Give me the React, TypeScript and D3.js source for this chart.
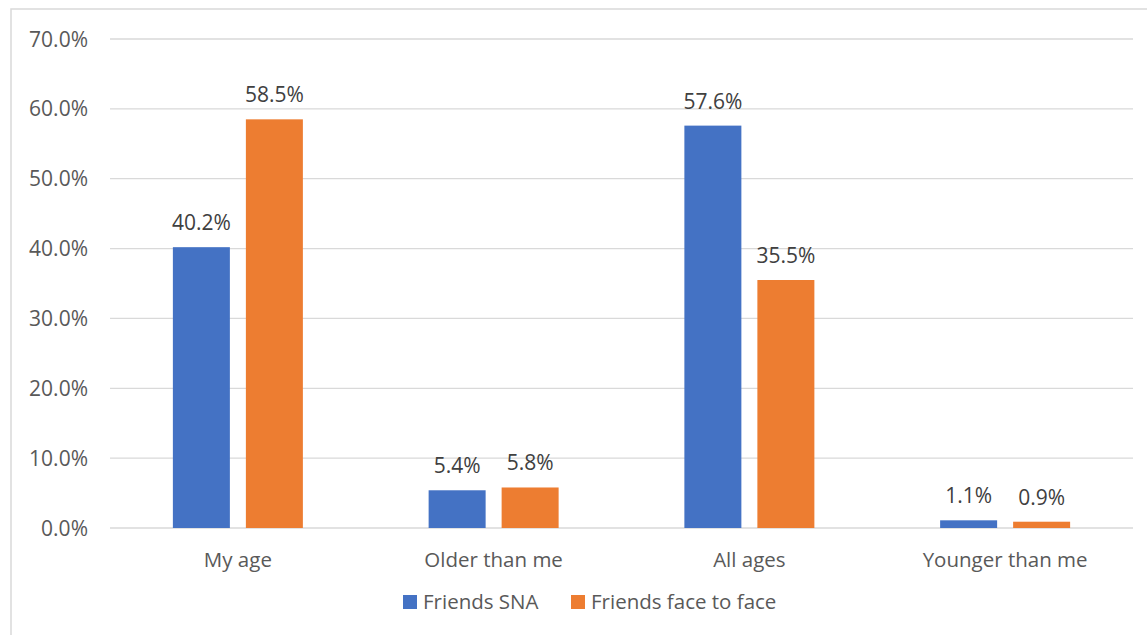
import React from "react";
import * as d3 from "d3";

const categories = ["My age", "Older than me", "All ages", "Younger than me"];
const seriesNames = ["Friends SNA", "Friends face to face"];
const friendsSNA = [40.2, 5.4, 57.6, 1.1];
const friendsFace = [58.5, 5.8, 35.5, 0.9];
const yTicks = [0, 10, 20, 30, 40, 50, 60, 70];
const colors = ["#4472C4", "#ED7D31"];

const W = 1147;
const H = 635;
const font = "'Open Sans', 'Segoe UI', sans-serif";
const textColor = "#595959";
const numSize = 21;
const txtSize = 20.5;

export default function App() {
  const left = 110, right = 1133, top = 39, bottom = 528;
  const x0 = d3.scaleBand<string>().domain(categories).range([left, right]);
  const y = d3.scaleLinear().domain([0, 70]).range([bottom, top]);
  const barW = 57;
  const gap = 16;
  const series = [friendsSNA, friendsFace];

  return (
    <svg width={W} height={H} style={{ position: "absolute", left: 0, top: 0, background: "#fff" }}>
      <rect x={11} y={9} width={W} height={H} fill="#fff" stroke="#d9d9d9" strokeWidth={1.5} />
      {yTicks.map((t) => (
        <g key={t}>
          <line x1={left} x2={right} y1={y(t)} y2={y(t)} stroke="#d9d9d9" strokeWidth={1.3} />
          <text x={88} y={y(t)} dy="0.36em" textAnchor="end" fontFamily={font} fontSize={numSize} fill={textColor}>
            {t.toFixed(1) + "%"}
          </text>
        </g>
      ))}
      {categories.map((c, i) => {
        const cx = (x0(c) as number) + x0.bandwidth() / 2;
        return (
          <g key={c}>
            {series.map((s, j) => {
              const bx = j === 0 ? cx - gap / 2 - barW : cx + gap / 2;
              return (
                <g key={j}>
                  <rect x={bx} y={y(s[i])} width={barW} height={y(0) - y(s[i])} fill={colors[j]} />
                  <text x={bx + barW / 2} y={y(s[i]) - 17} textAnchor="middle" fontFamily={font} fontSize={numSize} fill={"#404040"}>
                    {s[i].toFixed(1) + "%"}
                  </text>
                </g>
              );
            })}
            <text x={cx} y={567} textAnchor="middle" fontFamily={font} fontSize={txtSize} fill={textColor}>
              {c}
            </text>
          </g>
        );
      })}
      {seriesNames.map((n, j) => {
        const lx = j === 0 ? 403 : 571;
        return (
          <g key={n}>
            <rect x={lx} y={595} width={14} height={14} fill={colors[j]} />
            <text x={lx + 20} y={609} fontFamily={font} fontSize={txtSize} fill={textColor}>
              {n}
            </text>
          </g>
        );
      })}
    </svg>
  );
}
